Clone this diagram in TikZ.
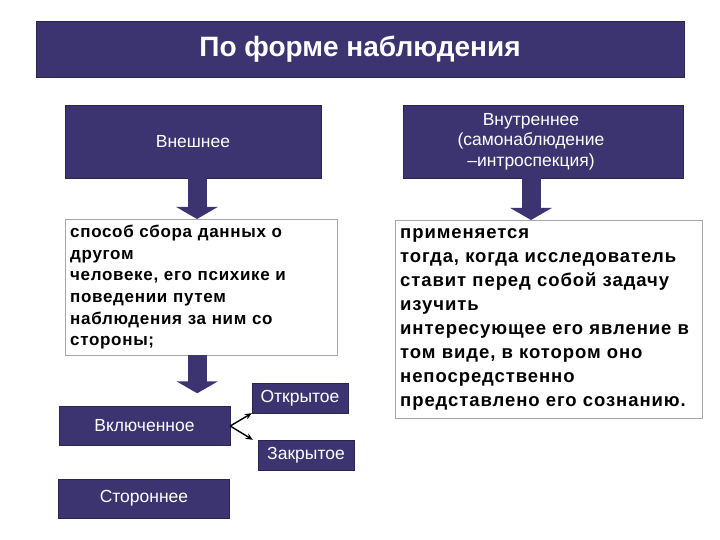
\documentclass[tikz,border=0pt]{standalone}
\usepackage{fontspec}
\setmainfont{Liberation Sans}
\usetikzlibrary{arrows.meta}
\definecolor{navy}{HTML}{3C3471}
\definecolor{navyedge}{HTML}{2A2452}
\tikzset{
  >=Latex,
  headbox/.style={rectangle, fill=navy, draw=navyedge, text=white, align=center, inner sep=2pt,
    font=\fontsize{17.5}{20.5}\selectfont},
  descbox/.style={rectangle, draw=gray!70, fill=white, align=left, anchor=north west,
    inner xsep=5pt, inner ysep=6pt},
  bigarrow/.style={navy, line width=19pt, -{Triangle[width=41pt, length=12pt]}},
  link/.style={->, >={Stealth[length=7pt, width=6pt]}, black, line width=1.4pt},
}

\begin{document}
\begin{tikzpicture}[x=1pt, y=-1pt]
  \useasboundingbox (0,0) rectangle (720,540);

  % ---- title
  \node[headbox, minimum width=648, minimum height=56,
        font=\fontsize{28}{32}\selectfont\bfseries] (title) at (360,49) {По форме наблюдения};

  % ---- two kinds
  \node[headbox, minimum width=256, minimum height=73] (ext) at (193,141.5) {Внешнее};
  \node[headbox, minimum width=280, minimum height=73] (int) at (543,141.5)
        {\begin{tabular}{@{}c@{\hspace{24pt}}}Внутреннее\\(самонаблюдение\\–интроспекция)\end{tabular}};

  % ---- descriptions
  \node[descbox, text width=262, minimum height=136,
        font=\fontsize{17}{21.6}\selectfont\bfseries\addfontfeature{LetterSpace=4}] (extdesc) at (65,219)
    {способ сбора данных о\\другом\\человеке, его психике и\\поведении путем\\наблюдения за ним со\\стороны;};
  \node[descbox, text width=297, minimum height=198, inner ysep=8pt,
        font=\fontsize{18.5}{24}\selectfont\bfseries\addfontfeature{LetterSpace=5}] (intdesc) at (395,220)
    {применяется\\тогда, когда исследователь\\ставит перед собой задачу\\изучить\\интересующее его явление в\\том виде, в котором оно\\непосредственно\\представлено его сознанию.};

  % ---- sub kinds
  \node[headbox, minimum width=171, minimum height=39] (incl) at (144.5,426) {Включенное};
  \node[headbox, minimum width=171, minimum height=39] (side) at (144,498.5) {Стороннее};
  \node[headbox, minimum width=96, minimum height=30] (open) at (300,398) {Открытое};
  \node[headbox, minimum width=96, minimum height=30] (closed) at (306,455) {Закрытое};

  % ---- block arrows
  \draw[bigarrow] ([xshift=4pt]ext.south) -- ([xshift=4pt]ext.south |- extdesc.north);
  \draw[bigarrow] ([xshift=-12pt]int.south) -- ([xshift=-12pt]int.south |- intdesc.north);
  \draw[bigarrow, shorten >=13pt] ([xshift=-4pt]extdesc.south) -- ([xshift=-4pt]extdesc.south |- incl.north);

  % ---- links to open / closed
  \draw[link] (incl.east) -- (open.south west);
  \draw[link] (incl.east) -- ([xshift=-5pt]closed.north west);

\end{tikzpicture}
\end{document}
